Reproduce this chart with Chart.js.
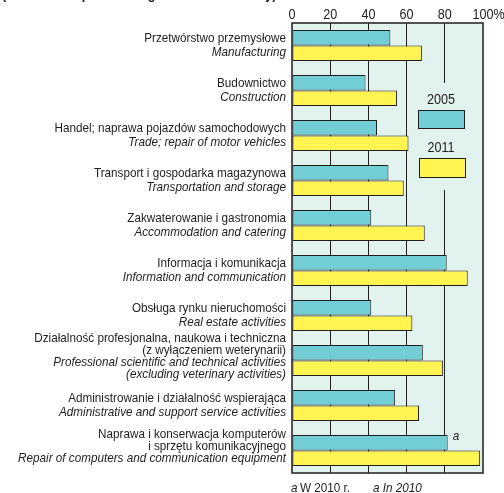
<!DOCTYPE html>
<html>
<head>
<meta charset="utf-8">
<script src="https://cdn.jsdelivr.net/npm/chart.js@4"></script>
<style>
  html, body { margin: 0; padding: 0; background: #fff; }
  #wrap { position: relative; width: 504px; height: 493px; }
</style>
</head>
<body>
<div id="wrap"><canvas id="chart"></canvas></div>
<script>
const labelsPl = [
    ['Przetwórstwo przemysłowe'],
    ['Budownictwo'],
    ['Handel; naprawa pojazdów samochodowych'],
    ['Transport i gospodarka magazynowa'],
    ['Zakwaterowanie i gastronomia'],
    ['Informacja i komunikacja'],
    ['Obsługa rynku nieruchomości'],
    ['Działalność profesjonalna, naukowa i techniczna', '(z wyłączeniem weterynarii)'],
    ['Administrowanie i działalność wspierająca'],
    ['Naprawa i konserwacja komputerów', 'i sprzętu komunikacyjnego']
];
const labelsEn = [
    ['Manufacturing'],
    ['Construction'],
    ['Trade; repair of motor vehicles'],
    ['Transportation and storage'],
    ['Accommodation and catering'],
    ['Information and communication'],
    ['Real estate activities'],
    ['Professional scientific and technical activities', '(excluding veterinary activities)'],
    ['Administrative and support service activities'],
    ['Repair of computers and communication equipment']
];
const years = ['2005', '2011'];
const values2005 = [51.5, 38.5, 44.5, 50.5, 41.5, 81, 41.5, 68.5, 54, 81.5];
const values2011 = [68, 55, 61, 58.5, 69.5, 92, 63, 79, 66.5, 98.5];
const xTicks = [0, 20, 40, 60, 80, 100];
const noteMark = 'a';
const notePl = 'W 2010 r.';
const noteEn = 'In 2010';
const titleText = '(in % of enterprises in a given kind of activity)';

const FONT = "'Liberation Sans', Arial, sans-serif";
const SX = 0.9; // condensed look: horizontal squeeze of the regular face
const TEAL = '#72cdd4';
const YELLOW = '#fff451';
const PLOT_BG = '#e2f2ee';
const INK = '#1e1e1e';

function text(ctx, str, x, y, font, align) {
    ctx.save();
    ctx.font = font;
    ctx.textAlign = align || 'left';
    ctx.translate(x, y);
    ctx.scale(SX, 1);
    ctx.fillText(str, 0, 0);
    const w = ctx.measureText(str).width * SX;
    ctx.restore();
    return w;
}

const decorPlugin = {
    id: 'decor',
    beforeDraw(chart) {
        const { ctx, chartArea: a } = chart;
        ctx.save();
        ctx.fillStyle = PLOT_BG;
        ctx.fillRect(a.left, a.top, a.right - a.left, a.bottom - a.top);
        ctx.restore();
    },
    afterDatasetsDraw(chart) {
        const { ctx, chartArea: a } = chart;
        const xScale = chart.scales.x;
        const yScale = chart.scales.y;
        ctx.save();
        ctx.textBaseline = 'middle';

        // legend block sits inside the plot, covering the 80 grid line
        ctx.fillStyle = PLOT_BG;
        ctx.fillRect(412, 83, 66, 107);
        ctx.fillStyle = INK;
        text(ctx, years[0], 441, 100, '14px ' + FONT, 'center');
        text(ctx, years[1], 441, 148, '14px ' + FONT, 'center');
        ctx.lineWidth = 1;
        ctx.strokeStyle = INK;
        ctx.fillStyle = TEAL;
        ctx.fillRect(418.5, 110.5, 46, 18);
        ctx.strokeRect(418.5, 110.5, 46, 18);
        ctx.fillStyle = YELLOW;
        ctx.fillRect(419.5, 158.5, 46, 19);
        ctx.strokeRect(419.5, 158.5, 46, 19);

        // plot frame
        ctx.lineWidth = 1.5;
        ctx.strokeRect(a.left, a.top, a.right - a.left, a.bottom - a.top);
        ctx.fillStyle = INK;

        // top axis labels
        xTicks.forEach((v, i) => {
            const x = xScale.getPixelForValue(v);
            const w = text(ctx, String(v), x, 15, '14px ' + FONT, 'center');
            if (i === xTicks.length - 1) text(ctx, '%', x + w / 2, 15, '14px ' + FONT, 'left');
        });

        // category labels: Polish upright, English italic
        labelsPl.forEach((pl, i) => {
            const lines = pl.map(t => ({ t, it: false }))
                .concat(labelsEn[i].map(t => ({ t, it: true })));
            const multi = lines.length > 2;
            const step = multi ? 12 : 14;
            const cy = yScale.getPixelForValue(i) + (multi ? -4 : 0);
            const y0 = cy - step * (lines.length - 1) / 2;
            lines.forEach((ln, k) => {
                text(ctx, ln.t, a.left - 6, y0 + k * step, (ln.it ? 'italic ' : '') + '13px ' + FONT, 'right');
            });
        });

        // footnote mark on the last 2005 bar
        const bar = chart.getDatasetMeta(0).data[values2005.length - 1];
        text(ctx, noteMark, bar.x + 5, bar.y - 6, 'italic 13px ' + FONT, 'left');

        // footnote below the plot
        const fy = a.bottom + 15;
        text(ctx, noteMark, a.left - 1, fy, 'italic 13px ' + FONT, 'left');
        text(ctx, notePl, a.left + 8, fy, '13px ' + FONT, 'left');
        text(ctx, noteMark + ' ' + noteEn, a.left + 81, fy, 'italic 13px ' + FONT, 'left');

        // clipped title line at the very top
        ctx.textBaseline = 'alphabetic';
        text(ctx, titleText, 2, -1, 'bold 14px ' + FONT, 'left');
        ctx.restore();
    }
};

new Chart(document.getElementById('chart'), {
    type: 'bar',
    data: {
        labels: labelsEn.map(l => l[0]),
        datasets: [
            {
                label: years[0],
                data: values2005,
                backgroundColor: TEAL,
                borderColor: INK,
                borderWidth: 1,
                borderSkipped: false
            },
            {
                label: years[1],
                data: values2011,
                backgroundColor: YELLOW,
                borderColor: INK,
                borderWidth: 1,
                borderSkipped: false
            }
        ]
    },
    options: {
        indexAxis: 'y',
        responsive: true,
        maintainAspectRatio: false,
        animation: false,
        datasets: {
            bar: { categoryPercentage: 0.69, barPercentage: 1.0 }
        },
        layout: { padding: { left: 0, right: 21, top: 0, bottom: 20 } },
        plugins: {
            legend: { display: false },
            tooltip: { enabled: false }
        },
        scales: {
            x: {
                position: 'top',
                min: 0,
                max: 100,
                afterBuildTicks(scale) {
                    scale.ticks = xTicks.map(v => ({ value: v }));
                },
                afterFit(scale) { scale.height = 23; },
                ticks: { display: false },
                grid: {
                    drawTicks: false,
                    lineWidth: 1,
                    color: ctx => (ctx.tick && (ctx.tick.value === 0 || ctx.tick.value === 100)) ? 'rgba(0,0,0,0)' : INK
                },
                border: { display: false }
            },
            y: {
                afterFit(scale) { scale.width = 292; },
                ticks: { display: false },
                grid: { display: false },
                border: { display: false }
            }
        }
    },
    plugins: [decorPlugin]
});
</script>
</body>
</html>
